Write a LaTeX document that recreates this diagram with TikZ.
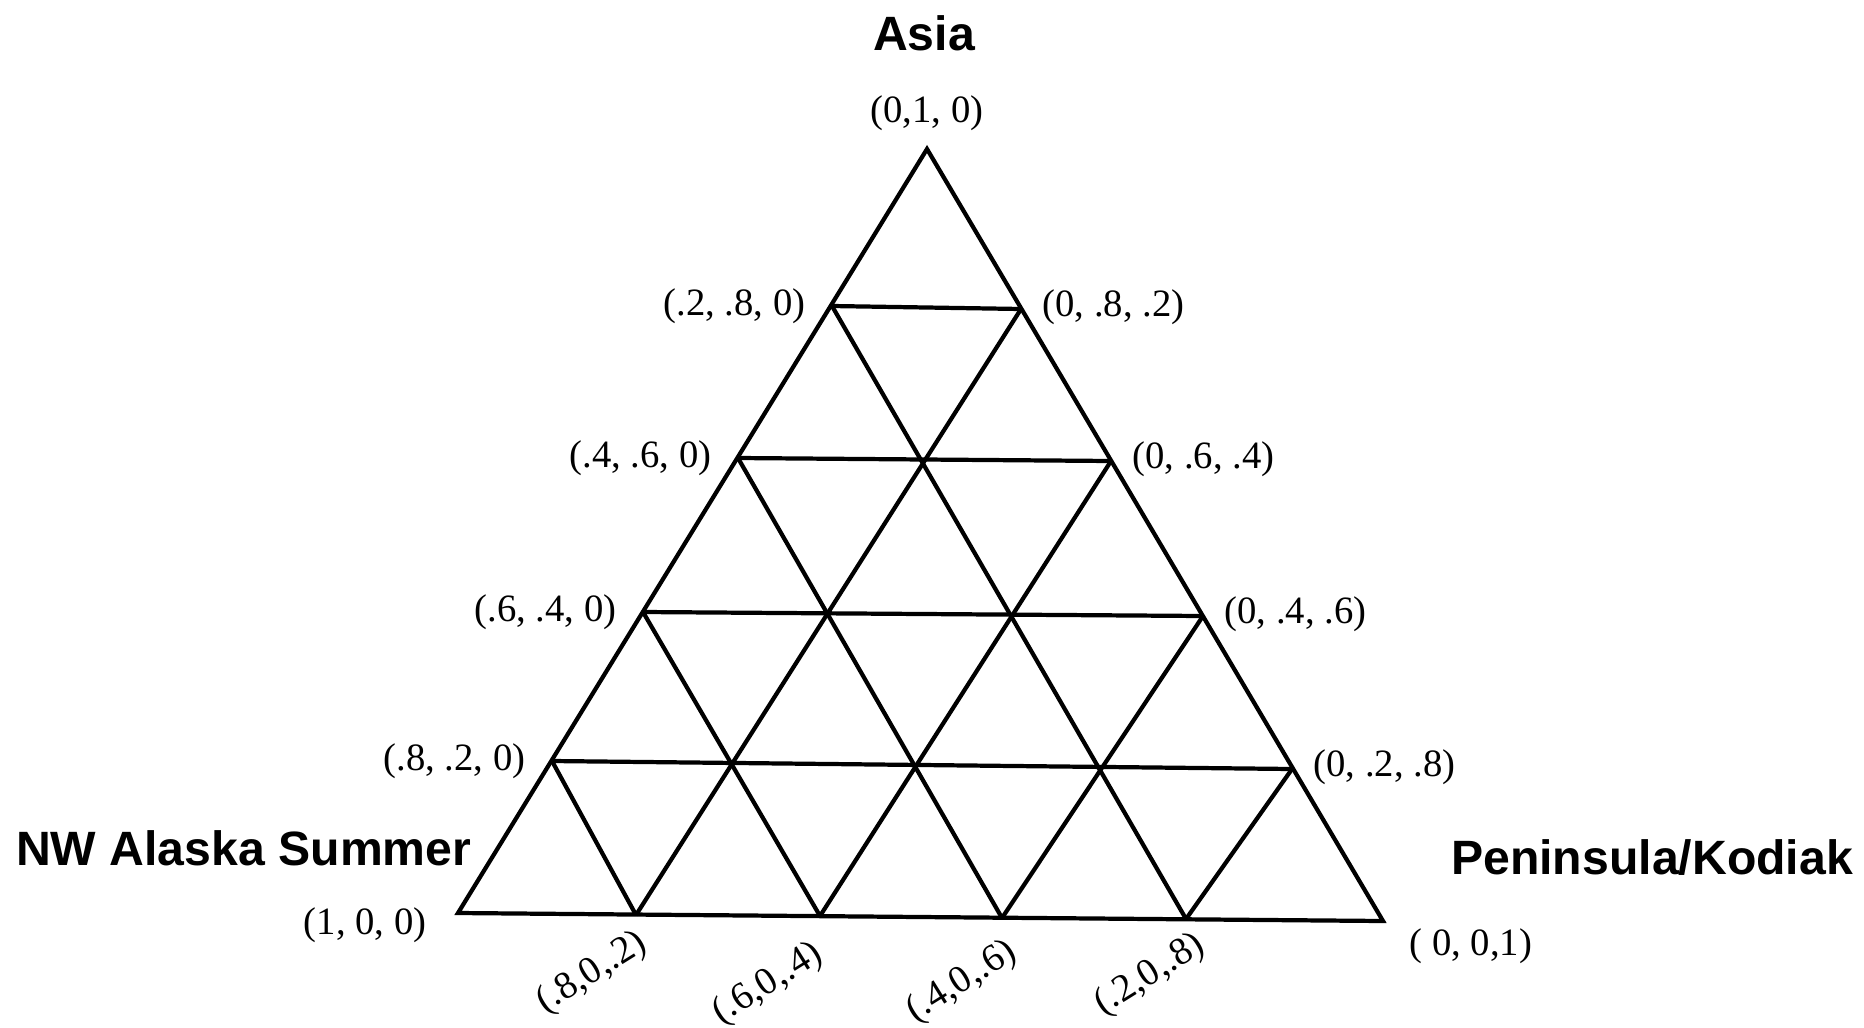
\documentclass[tikz,border=0pt]{standalone}
\usepackage{fontspec}
\setmainfont{Liberation Serif}
\setsansfont{Liberation Sans}
\usetikzlibrary{calc}

\tikzset{
  mixline/.style={line width=1.2pt},
  coordlabel/.style={font=\fontsize{11}{13}\selectfont, inner sep=0pt},
  sourcelabel/.style={font=\sffamily\bfseries\fontsize{13.7}{16}\selectfont, inner sep=0pt}
}

\begin{document}
\begin{tikzpicture}[x=0.01cm, y=-0.01cm]
\useasboundingbox (0,0) rectangle (1864,1027);

% Corners of the triangle
\coordinate (L) at (458,913);
\coordinate (T) at (927,149);
\coordinate (R) at (1383,921);

% Points on the edges, every .2
\foreach \k/\x/\y in {1/552/761, 2/643/612, 3/738/458, 4/832/306}
  \coordinate (l\k) at (\x,\y);
\foreach \k/\x/\y in {1/1292/769, 2/1203/616, 3/1111/461, 4/1021/309}
  \coordinate (r\k) at (\x,\y);
\foreach \k/\x/\y in {1/636/915, 2/820/916, 3/1002/918, 4/1186/919}
  \coordinate (b\k) at (\x,\y);

% Outline
\draw[mixline] (L) -- (T) -- (R) -- cycle;

% Grid
\foreach \k in {1,...,4} {
  \pgfmathtruncatemacro{\m}{5-\k}
  \draw[mixline] (l\k) -- (r\k);
  \draw[mixline] (b\k) -- (l\k);
  \draw[mixline] (b\k) -- (r\m);
}

% Sources
\node[sourcelabel] (asia) at ($(T)+(-3,-116)$) {Asia};
\node[sourcelabel, anchor=east] (nwalaska) at ($(L)+(14,-65)$) {NW Alaska Summer};
\node[sourcelabel] (peninsula) at ($(R)+(269,-63)$) {Peninsula/Kodiak};

% Corner labels
\node[coordlabel] (labT) at ($(T)+(0,-36)$) {(0,1, 0)};
\node[coordlabel, anchor=east] (labL) at ($(L)+(-31,12)$) {(1, 0, 0)};
\node[coordlabel, anchor=west] (labR) at ($(R)+(26,25)$) {( 0, 0,1)};

% Left edge labels
\foreach \k/\txt in {1/{(.8, .2, 0)}, 2/{(.6, .4, 0)}, 3/{(.4, .6, 0)}, 4/{(.2, .8, 0)}}
  \node[coordlabel, anchor=east] (labl\k) at ($(l\k)+(-26,0)$) {\txt};

% Right edge labels
\foreach \k/\txt in {1/{(0, .2, .8)}, 2/{(0, .4, .6)}, 3/{(0, .6, .4)}, 4/{(0, .8, .2)}}
  \node[coordlabel, anchor=west] (labr\k) at ($(r\k)+(21,-2)$) {\txt};

% Bottom edge labels
\foreach \k/\txt/\dx/\dy in {1/{(.8,0,.2)}/-44/58, 2/{(.6,0,.4)}/-52/68, 3/{(.4,0,.6)}/-40/64, 4/{(.2,0,.8)}/-36/56}
  \node[coordlabel, rotate=32] (labb\k) at ($(b\k)+(\dx,\dy)$) {\txt};

\end{tikzpicture}
\end{document}
